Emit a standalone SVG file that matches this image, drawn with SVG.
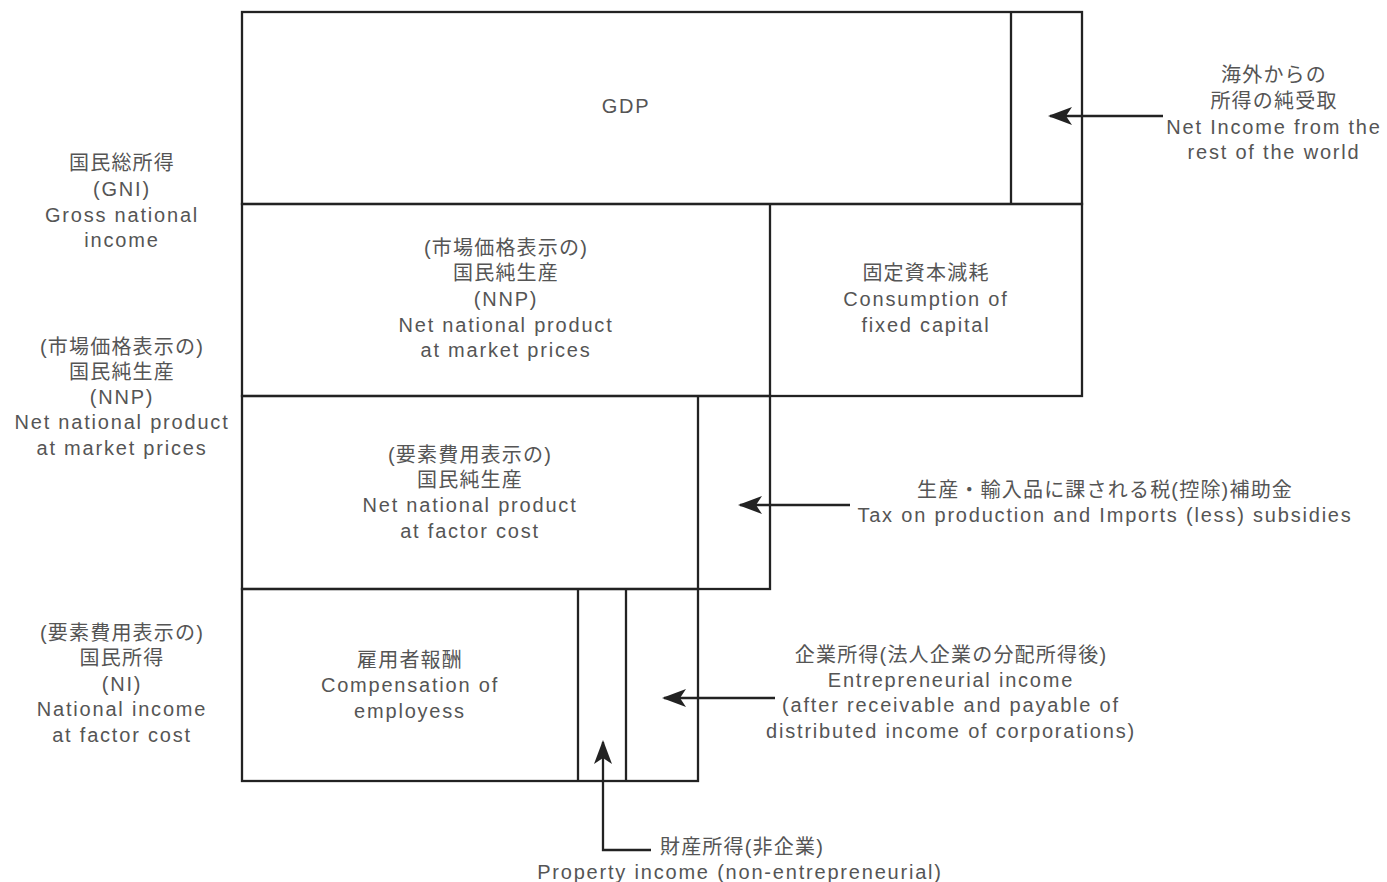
<svg xmlns="http://www.w3.org/2000/svg" width="1387" height="882" viewBox="0 0 1387 882">
<defs>
<style>
.box{fill:none;stroke:#222;stroke-width:2.3}
.ln{fill:none;stroke:#222;stroke-width:2.3}
.conn{fill:none;stroke:#222;stroke-width:2.3}
text{font-family:"Liberation Sans","Noto Sans CJK JP",sans-serif;font-size:20px;fill:#555;text-anchor:middle;dominant-baseline:central;letter-spacing:1.8px}
text.j{letter-spacing:1.2px}
</style>
<marker id="ah" viewBox="0 0 24 20" markerWidth="24" markerHeight="20" refX="22" refY="10" orient="auto" markerUnits="userSpaceOnUse">
<path d="M0,1 L24,10 L0,19 L6,10 Z" fill="#222"/>
</marker>
</defs>
<rect width="1387" height="882" fill="#fff"/>
<g id="row-gdp">
<rect class="box" x="242" y="12" width="840" height="192"/>
<line class="ln" x1="1011" y1="12" x2="1011" y2="204"/>
<text x="626" y="106">GDP</text>
</g>
<g id="row-nnp-market">
<rect class="box" x="242" y="204" width="840" height="192"/>
<line class="ln" x1="770" y1="204" x2="770" y2="396"/>
<text class="j" x="506" y="248">(市場価格表示の)</text>
<text class="j" x="506" y="273">国民純生産</text>
<text x="506" y="299">(NNP)</text>
<text x="506" y="325">Net national product</text>
<text x="506" y="350">at market prices</text>
</g>
<g id="consumption-fixed-capital">
<text class="j" x="926" y="273">固定資本減耗</text>
<text x="926" y="299">Consumption of</text>
<text x="926" y="325">fixed capital</text>
</g>
<g id="row-nnp-factor">
<rect class="box" x="242" y="396" width="528" height="193"/>
<line class="ln" x1="698" y1="396" x2="698" y2="589"/>
<text class="j" x="470" y="455">(要素費用表示の)</text>
<text class="j" x="470" y="480">国民純生産</text>
<text x="470" y="505">Net national product</text>
<text x="470" y="531">at factor cost</text>
</g>
<g id="row-ni">
<rect class="box" x="242" y="589" width="456" height="192"/>
<line class="ln" x1="578" y1="589" x2="578" y2="781"/>
<line class="ln" x1="626" y1="589" x2="626" y2="781"/>
<text class="j" x="410" y="660">雇用者報酬</text>
<text x="410" y="685">Compensation of</text>
<text x="410" y="711">employess</text>
</g>
<g id="label-gni">
<text class="j" x="122" y="163">国民総所得</text>
<text x="122" y="189">(GNI)</text>
<text x="122" y="215">Gross national</text>
<text x="122" y="240">income</text>
</g>
<g id="label-nnp">
<text class="j" x="122" y="347">(市場価格表示の)</text>
<text class="j" x="122" y="372">国民純生産</text>
<text x="122" y="397">(NNP)</text>
<text x="122" y="422">Net national product</text>
<text x="122" y="448">at market prices</text>
</g>
<g id="label-ni">
<text class="j" x="122" y="633">(要素費用表示の)</text>
<text class="j" x="122" y="658">国民所得</text>
<text x="122" y="684">(NI)</text>
<text x="122" y="709">National income</text>
<text x="122" y="735">at factor cost</text>
</g>
<g id="label-net-income-row">
<text class="j" x="1274" y="75">海外からの</text>
<text class="j" x="1274" y="101">所得の純受取</text>
<text x="1274" y="127">Net Income from the</text>
<text x="1274" y="152">rest of the world</text>
</g>
<g id="label-tax">
<text class="j" x="1105" y="490">生産・輸入品に課される税(控除)補助金</text>
<text x="1105" y="515">Tax on production and Imports (less) subsidies</text>
</g>
<g id="label-entrepreneurial">
<text class="j" x="951" y="655">企業所得(法人企業の分配所得後)</text>
<text x="951" y="680">Entrepreneurial income</text>
<text x="951" y="705">(after receivable and payable of</text>
<text x="951" y="731">distributed income of corporations)</text>
</g>
<g id="label-property">
<text class="j" x="742" y="847">財産所得(非企業)</text>
<text x="740" y="872">Property income (non-entrepreneurial)</text>
</g>
<g id="connectors">
<line class="conn" x1="1163" y1="116" x2="1050" y2="116" marker-end="url(#ah)"/>
<line class="conn" x1="850" y1="505" x2="740" y2="505" marker-end="url(#ah)"/>
<line class="conn" x1="775" y1="698" x2="664" y2="698" marker-end="url(#ah)"/>
<polyline class="conn" points="651,850 603,850 603,742" marker-end="url(#ah)"/>
</g>
</svg>
